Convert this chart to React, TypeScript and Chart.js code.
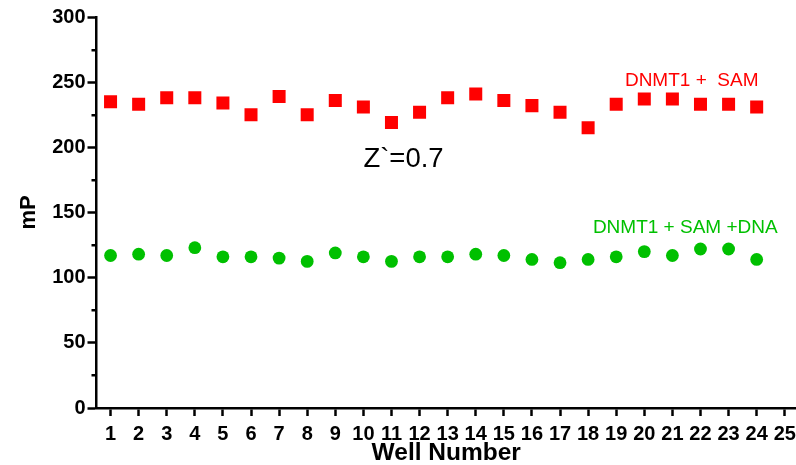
import React, { useEffect, useRef } from 'react';
import { Chart, registerables } from 'chart.js';

Chart.register(...registerables);

// ---- data ----
const wells = [1, 2, 3, 4, 5, 6, 7, 8, 9, 10, 11, 12, 13, 14, 15, 16, 17, 18, 19, 20, 21, 22, 23, 24];
const samValues = [235, 233, 238, 238, 234, 225, 239, 225, 236, 231, 219, 227, 238, 241, 236, 232, 227, 215, 233, 237, 237, 233, 233, 231];
const samDnaValues = [117, 118, 117, 123, 116, 116, 115, 112.5, 119, 116, 112.5, 116, 116, 118, 117, 114, 111.5, 114, 116, 120, 117, 122, 122, 114];
const yMinorTicks = [25, 75, 125, 175, 225, 275];
const samLabel = 'DNMT1 +  SAM';
const samDnaLabel = 'DNMT1 + SAM +DNA';
const zPrimeLabel = 'Z`=0.7';
const xTitle = 'Well Number';
const yTitle = 'mP';

const FONT = "'Liberation Sans', Arial, sans-serif";
const RED = '#ff0000';
const GREEN = '#00c000';

const overlayPlugin = {
  id: 'overlay',
  afterDraw(chart: any) {
    const { ctx, scales } = chart;
    const x = scales.x;
    const y = scales.y;
    ctx.save();
    // minor y ticks
    ctx.strokeStyle = '#000';
    ctx.lineWidth = 2.5;
    for (const v of yMinorTicks) {
      const py = Math.round(y.getPixelForValue(v)) + 0.25;
      ctx.beginPath();
      ctx.moveTo(x.left - 5, py);
      ctx.lineTo(x.left, py);
      ctx.stroke();
    }
    // annotations
    const notes = [
      { text: samLabel, color: RED, size: 19, xv: 19.31, yv: 251.4 },
      { text: samDnaLabel, color: GREEN, size: 19, xv: 18.17, yv: 138.6 },
      { text: zPrimeLabel, color: '#000', size: 27.5, xv: 10.0, yv: 191 },
    ];
    ctx.textAlign = 'left';
    ctx.textBaseline = 'middle';
    for (const n of notes) {
      ctx.fillStyle = n.color;
      ctx.font = `${n.size}px ${FONT}`;
      ctx.fillText(n.text, x.getPixelForValue(n.xv), y.getPixelForValue(n.yv));
    }
    ctx.restore();
  },
};

export default function App() {
  const ref = useRef<HTMLCanvasElement | null>(null);

  useEffect(() => {
    if (!ref.current) return;
    const chart = new Chart(ref.current, {
      type: 'scatter',
      data: {
        datasets: [
          {
            label: samLabel,
            data: wells.map((w, i) => ({ x: w, y: samValues[i] })),
            backgroundColor: RED,
            borderColor: RED,
            borderWidth: 0,
            pointStyle: 'rect',
            pointRadius: 9.2,
          },
          {
            label: samDnaLabel,
            data: wells.map((w, i) => ({ x: w, y: samDnaValues[i] })),
            backgroundColor: GREEN,
            borderColor: GREEN,
            borderWidth: 0,
            pointStyle: 'circle',
            pointRadius: 6.4,
          },
        ],
      },
      options: {
        animation: false,
        responsive: false,
        devicePixelRatio: 1,
        layout: { autoPadding: false, padding: { top: 17, left: 0, right: 0, bottom: 0 } },
        plugins: {
          legend: { display: false },
          tooltip: { enabled: false },
        },
        scales: {
          x: {
            type: 'linear',
            min: 0.5,
            max: 25.4,
            afterFit: (s: any) => {
              s.height = 57;
              s.paddingLeft = 0;
              s.paddingRight = 0;
            },
            border: { color: '#000', width: 2.5 },
            grid: { drawOnChartArea: false, tickLength: 8, tickWidth: 2.5, tickColor: '#000' },
            ticks: {
              stepSize: 1,
              includeBounds: false,
              autoSkip: false,
              maxRotation: 0,
              padding: 6,
              color: '#000',
              font: { family: FONT, size: 20, weight: 'bold' },
            },
            title: {
              display: true,
              text: xTitle,
              color: '#000',
              font: { family: FONT, size: 24.5, weight: 'bold', lineHeight: 1 },
              padding: { top: 0, bottom: 0 },
            },
          },
          y: {
            type: 'linear',
            min: 0,
            max: 300,
            afterFit: (s: any) => {
              s.width = 96.5;
              s.paddingTop = 0;
              s.paddingBottom = 0;
            },
            border: { color: '#000', width: 2.5 },
            grid: { drawOnChartArea: false, tickLength: 9, tickWidth: 2.5, tickColor: '#000' },
            ticks: {
              stepSize: 50,
              padding: 2,
              color: '#000',
              font: { family: FONT, size: 20, weight: 'bold' },
            },
            title: {
              display: true,
              text: yTitle,
              color: '#000',
              font: { family: FONT, size: 22, weight: 'bold', lineHeight: 1 },
              padding: { top: 18, bottom: 0 },
            },
          },
        },
      } as any,
      plugins: [overlayPlugin],
    });
    return () => chart.destroy();
  }, []);

  return (
    <div style={{ position: 'fixed', left: 0, top: 0, width: 796, height: 465, background: '#fff' }}>
      <canvas ref={ref} width={796} height={465} style={{ width: 796, height: 465 }} />
    </div>
  );
}
